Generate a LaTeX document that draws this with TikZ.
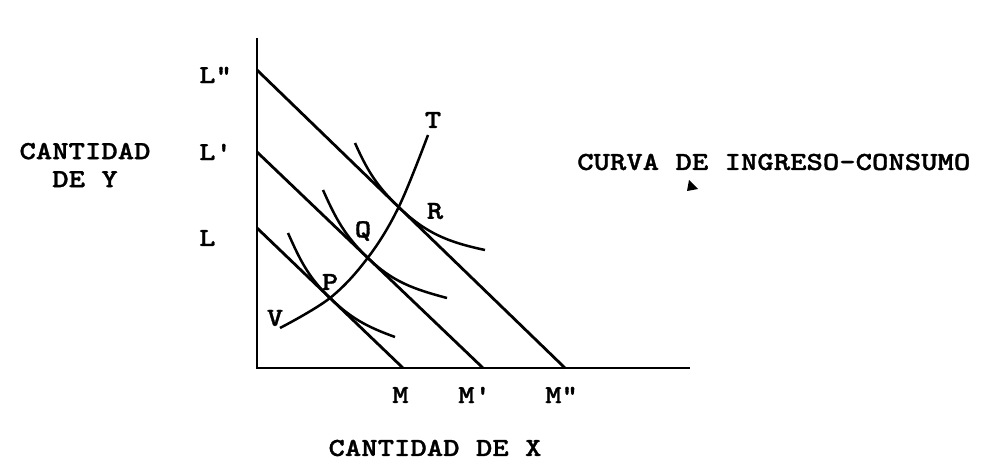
\documentclass[tikz,border=0pt]{standalone}
\usepackage{fontspec}
\setmonofont{lmmonolt10-bold}[Extension=.otf, FakeStretch=1.2, FakeBold=1.2]
\usetikzlibrary{positioning, calc}
\tikzset{
  axline/.style={black, line width=2.6pt},
  bline/.style={black, line width=2.8pt},
  icurve/.style={black, line width=2.5pt},
  lab/.style={font=\fontsize{26}{28}\selectfont\ttfamily, inner sep=0pt},
}

\begin{document}
\begin{tikzpicture}[x=1pt, y=1pt]
  \useasboundingbox (0,0) rectangle (990,-462);
  % axes
  \coordinate (O)  at (257,-368);
  \coordinate (Yt) at (257,-38);
  \coordinate (Xr) at (690,-368);
  \draw[axline] (Yt) -- (O) -- (Xr);
  % budget lines
  \coordinate (L0) at (257,-228); \coordinate (M0) at (403,-368);
  \coordinate (L1) at (257,-152); \coordinate (M1) at (483,-368);
  \coordinate (L2) at (257,-70);  \coordinate (M2) at (565,-368);
  \draw[bline] (L0) -- (M0);
  \draw[bline] (L1) -- (M1);
  \draw[bline] (L2) -- (M2);
  % tangency points
  \coordinate (P) at ($(L0)!0.50!(M0)$);
  \coordinate (Q) at ($(L1)!0.49!(M1)$);
  \coordinate (R) at ($(L2)!0.46!(M2)$);
  % indifference curves
  \coordinate (p0) at (288,-233); \coordinate (p1) at (395,-337);
  \coordinate (q0) at (323,-190); \coordinate (q1) at (447,-298);
  \coordinate (r0) at (355,-143); \coordinate (r1) at (485,-250);
  \draw[icurve] (p0) to[out=-66, in=136] (P) to[out=-44, in=160] (p1);
  \draw[icurve] (q0) to[out=-66, in=136] (Q) to[out=-44, in=165] (q1);
  \draw[icurve] (r0) to[out=-66, in=136] (R) to[out=-44, in=168] (r1);
  % income-consumption curve
  \coordinate (V) at (280,-328);
  \coordinate (T) at (428,-135);
  \draw[icurve] plot[smooth, tension=0.6] coordinates {(V) (P) (Q) (R) (T)};
  % labels
  \node[lab, anchor=west] (lL2) at (199,-75)  {L"};
  \node[lab, anchor=west] (lL1) at (199,-152) {L'};
  \node[lab, anchor=west] (lL0) at (199,-238) {L};
  \node[lab] (lT) at (433,-120) {T};
  \node[lab] (lR) at (435,-211) {R};
  \node[lab] (lQ) at (363,-231) {Q};
  \node[lab] (lP) at (330,-282) {P};
  \node[lab] (lV) at (275,-318) {V};
  \node[lab, anchor=west] (lM0) at (392,-395) {M};
  \node[lab, anchor=west] (lM1) at (458,-395) {M'};
  \node[lab, anchor=west] (lM2) at (545,-395) {M"};
  \node[lab, align=center] (ylab) at (85,-165) {CANTIDAD\\DE Y};
  \node[lab] (xlab) at (435,-448) {CANTIDAD DE X};
  \node[lab, anchor=west] (icc) at (577,-162) {CURVA DE INGRESO-CONSUMO};
  \fill (689,-180) -- (698,-189) -- (687,-191) -- cycle;
\end{tikzpicture}
\end{document}
